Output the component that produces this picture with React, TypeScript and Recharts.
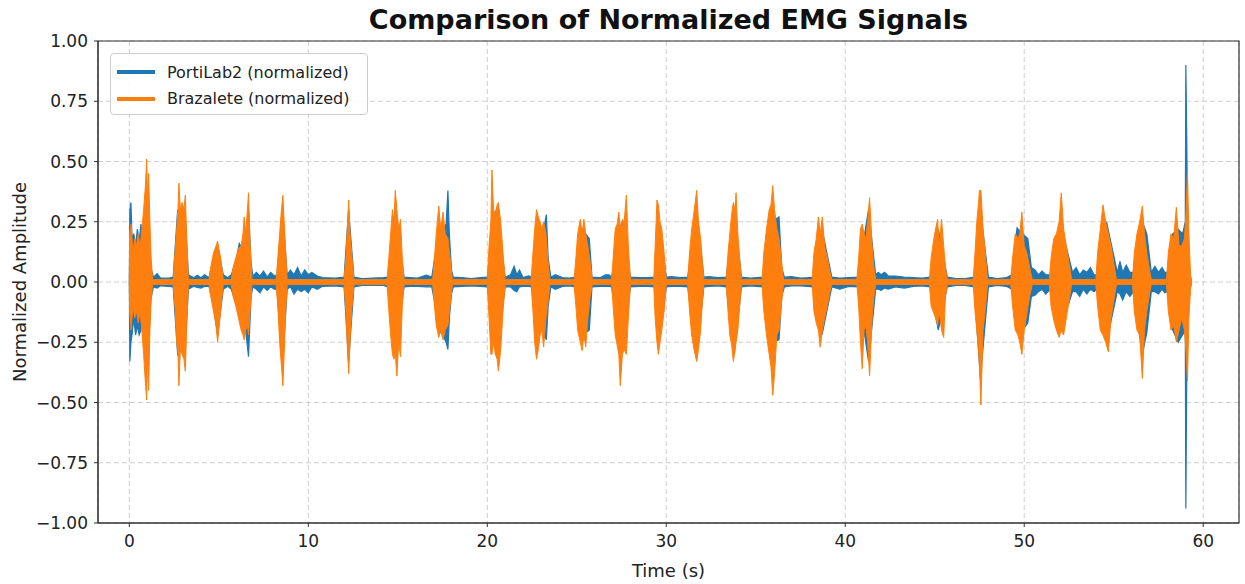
import React from 'react';
import {
  ComposedChart,
  Area,
  XAxis,
  YAxis,
  CartesianGrid,
  ReferenceArea,
  Label,
} from 'recharts';

// Tick values
const TIME_TICKS = [0, 10, 20, 30, 40, 50, 60];
const AMP_TICKS = [-1, -0.75, -0.5, -0.25, 0, 0.25, 0.5, 0.75, 1];

// Series names
const SERIES_NAMES = ['PortiLab2 (normalized)', 'Brazalete (normalized)'];

// Envelope readings [time (s), max, min] of the PortiLab2 signal
const PORTILAB2_ENVELOPE: [number, number, number][] = [
  [0, 0, 0], [0.03, 0.3, -0.33], [0.09, 0.33, -0.25], [0.15, 0.18, -0.22], [0.25, 0.2, -0.15], [0.35, 0.15, -0.22],
  [0.45, 0.22, -0.18], [0.55, 0.17, -0.22], [0.65, 0.24, -0.2], [0.75, 0.18, -0.15], [0.9, 0.25, -0.3], [1.05, 0.28, -0.3],
  [1.2, 0.06, -0.07], [1.35, 0.02, -0.02], [1.55, 0.035, -0.025], [1.75, 0.016, -0.016], [2.2, 0.016, -0.018],
  [2.45, 0.02, -0.02], [2.7, 0.3, -0.3], [2.9, 0.25, -0.28], [3.1, 0.3, -0.3], [3.3, 0.03, -0.03],
  [3.6, 0.018, -0.018], [3.8, 0.028, -0.022], [4.0, 0.018, -0.025], [4.2, 0.03, -0.018], [4.45, 0.018, -0.018],
  [4.7, 0.1, -0.1], [4.93, 0.15, -0.22], [5.25, 0.03, -0.03], [5.5, 0.018, -0.018],
  [5.7, 0.03, -0.03], [6.0, 0.1, -0.1], [6.14, 0.16, -0.12], [6.3, 0.14, -0.2], [6.5, 0.18, -0.2], [6.66, 0.3, -0.31],
  [6.8, 0.08, -0.06], [6.9, 0.025, -0.02],
  [7.1, 0.04, -0.03], [7.3, 0.025, -0.045], [7.5, 0.045, -0.02], [7.7, 0.02, -0.035], [7.9, 0.04, -0.02], [8.1, 0.025, -0.03],
  [8.25, 0.03, -0.03], [8.55, 0.3, -0.35], [8.82, 0.03, -0.03],
  [9.0, 0.05, -0.02], [9.2, 0.03, -0.05], [9.4, 0.06, -0.03], [9.6, 0.025, -0.04], [9.8, 0.05, -0.03], [10.0, 0.03, -0.045],
  [10.2, 0.04, -0.02], [10.5, 0.025, -0.03], [10.8, 0.018, -0.018], [11.5, 0.016, -0.016],
  [12.0, 0.02, -0.02], [12.25, 0.3, -0.33], [12.55, 0.02, -0.02],
  [13.0, 0.014, -0.014], [13.6, 0.016, -0.014], [14.2, 0.018, -0.014],
  [14.45, 0.02, -0.02], [14.85, 0.3, -0.3], [15.35, 0.02, -0.02],
  [15.7, 0.018, -0.018], [16.1, 0.016, -0.018], [16.6, 0.028, -0.02],
  [16.9, 0.02, -0.02], [17.1, 0.12, -0.1], [17.3, 0.2, -0.2], [17.5, 0.22, -0.22], [17.7, 0.24, -0.25], [17.8, 0.38, -0.28],
  [17.88, 0.2, -0.15], [18.0, 0.05, -0.05], [18.1, 0.02, -0.02],
  [18.6, 0.018, -0.018], [19.1, 0.014, -0.016], [19.6, 0.018, -0.018],
  [20.0, 0.02, -0.02], [20.5, 0.3, -0.3], [21.0, 0.02, -0.02],
  [21.3, 0.03, -0.02], [21.5, 0.065, -0.035], [21.65, 0.03, -0.04], [21.8, 0.05, -0.02], [22.0, 0.018, -0.018], [22.3, 0.025, -0.018],
  [22.5, 0.02, -0.02], [22.8, 0.2, -0.2], [23.1, 0.2, -0.2], [23.3, 0.28, -0.24], [23.4, 0.1, -0.1], [23.55, 0.02, -0.02],
  [23.8, 0.03, -0.03], [24.2, 0.018, -0.018], [24.6, 0.016, -0.016],
  [24.9, 0.02, -0.02], [25.3, 0.22, -0.22], [25.7, 0.18, -0.2], [25.85, 0.02, -0.02],
  [26.3, 0.018, -0.018], [26.6, 0.03, -0.018], [26.8, 0.03, -0.018],
  [26.95, 0.02, -0.02], [27.5, 0.25, -0.3], [28.0, 0.02, -0.02],
  [28.5, 0.018, -0.018], [29.0, 0.018, -0.018],
  [29.35, 0.02, -0.02], [29.6, 0.25, -0.25], [30.0, 0.02, -0.02],
  [30.3, 0.022, -0.018], [30.8, 0.018, -0.018],
  [31.2, 0.02, -0.02], [31.7, 0.3, -0.3], [32.1, 0.02, -0.02],
  [32.4, 0.022, -0.018], [32.9, 0.018, -0.016],
  [33.35, 0.02, -0.02], [33.8, 0.3, -0.3], [34.2, 0.02, -0.02],
  [34.7, 0.016, -0.016],
  [35.4, 0.02, -0.02], [35.9, 0.25, -0.25], [36.3, 0.27, -0.24], [36.45, 0.06, -0.06], [36.6, 0.02, -0.02],
  [37.0, 0.022, -0.016], [37.5, 0.016, -0.016], [37.9, 0.018, -0.018],
  [38.2, 0.02, -0.02], [38.7, 0.22, -0.22], [39.25, 0.02, -0.02],
  [39.7, 0.016, -0.03], [40.2, 0.018, -0.018],
  [40.7, 0.02, -0.02], [41.3, 0.3, -0.33], [41.7, 0.03, -0.03],
  [41.85, 0.04, -0.03], [42.0, 0.03, -0.035], [42.2, 0.04, -0.025], [42.4, 0.025, -0.03], [42.8, 0.025, -0.02],
  [43.3, 0.02, -0.025], [43.8, 0.018, -0.018], [44.3, 0.016, -0.016],
  [44.75, 0.02, -0.02], [45.2, 0.22, -0.2], [45.7, 0.02, -0.02],
  [46.2, 0.014, -0.014], [46.7, 0.014, -0.014],
  [47.2, 0.02, -0.02], [47.55, 0.3, -0.4], [48.0, 0.02, -0.02],
  [48.5, 0.014, -0.014], [49.0, 0.018, -0.018],
  [49.3, 0.03, -0.03], [49.6, 0.225, -0.15], [49.9, 0.2, -0.2], [50.2, 0.18, -0.17], [50.4, 0.06, -0.06],
  [50.6, 0.05, -0.055], [50.8, 0.03, -0.04], [51.0, 0.045, -0.03], [51.2, 0.03, -0.05],
  [51.45, 0.03, -0.03], [52.0, 0.25, -0.2], [52.7, 0.04, -0.04],
  [52.9, 0.06, -0.04], [53.1, 0.03, -0.06], [53.3, 0.05, -0.03], [53.5, 0.04, -0.05], [53.7, 0.06, -0.03], [53.9, 0.03, -0.04],
  [54.05, 0.03, -0.03], [54.6, 0.25, -0.25], [55.2, 0.04, -0.04],
  [55.35, 0.086, -0.05], [55.5, 0.04, -0.075], [55.7, 0.07, -0.04], [55.9, 0.04, -0.06],
  [56.1, 0.04, -0.04], [56.6, 0.25, -0.3], [56.85, 0.2, -0.21], [57.1, 0.04, -0.04],
  [57.3, 0.065, -0.04], [57.5, 0.04, -0.05], [57.7, 0.06, -0.03], [57.85, 0.04, -0.045],
  [58.0, 0.04, -0.04], [58.3, 0.2, -0.2], [58.6, 0.22, -0.25], [58.85, 0.2, -0.22], [59.0, 0.25, -0.2],
  [59.03, 0.9, -0.94], [59.08, 0.6, -0.4], [59.15, 0.1, -0.1], [59.3, 0.02, -0.02], [59.35, 0, 0],
];

// Envelope readings [time (s), max, min] of the Brazalete signal
const BRAZALETE_ENVELOPE: [number, number, number][] = [
  [0, 0, 0], [0.02, 0.2, -0.12], [0.1, 0.24, -0.2], [0.2, 0.12, -0.1], [0.3, 0.18, -0.15], [0.4, 0.15, -0.12],
  [0.5, 0.2, -0.17], [0.6, 0.14, -0.12], [0.7, 0.22, -0.2], [0.8, 0.3, -0.3], [0.9, 0.4, -0.42], [0.97, 0.51, -0.49],
  [1.02, 0.35, -0.3], [1.08, 0.45, -0.45], [1.15, 0.25, -0.2], [1.22, 0.1, -0.08], [1.3, 0.01, -0.01],
  [2.45, 0.01, -0.01], [2.55, 0.12, -0.1], [2.65, 0.22, -0.25], [2.72, 0.3, -0.3], [2.77, 0.41, -0.43], [2.85, 0.3, -0.28],
  [2.95, 0.33, -0.3], [3.05, 0.3, -0.32], [3.13, 0.36, -0.37], [3.2, 0.2, -0.2], [3.3, 0.01, -0.01],
  [4.45, 0.01, -0.01], [4.55, 0.06, -0.06], [4.7, 0.12, -0.12], [4.85, 0.15, -0.18], [4.93, 0.17, -0.25], [5.0, 0.14, -0.2],
  [5.1, 0.1, -0.12], [5.25, 0.01, -0.01],
  [5.7, 0.01, -0.01], [5.8, 0.06, -0.06], [5.95, 0.1, -0.1], [6.1, 0.14, -0.15], [6.25, 0.15, -0.2], [6.35, 0.2, -0.22],
  [6.42, 0.27, -0.24], [6.5, 0.2, -0.2], [6.6, 0.3, -0.18], [6.66, 0.37, -0.22], [6.75, 0.15, -0.12], [6.85, 0.01, -0.01],
  [8.2, 0.01, -0.01], [8.3, 0.1, -0.1], [8.4, 0.2, -0.25], [8.5, 0.3, -0.35], [8.58, 0.36, -0.43], [8.65, 0.25, -0.3],
  [8.72, 0.15, -0.15], [8.82, 0.01, -0.01],
  [12.0, 0.01, -0.01], [12.1, 0.1, -0.12], [12.2, 0.25, -0.3], [12.26, 0.34, -0.38], [12.33, 0.2, -0.25], [12.42, 0.12, -0.12],
  [12.55, 0.01, -0.01],
  [14.4, 0.01, -0.01], [14.5, 0.1, -0.12], [14.6, 0.2, -0.22], [14.7, 0.3, -0.3], [14.78, 0.25, -0.32], [14.86, 0.38, -0.3],
  [14.95, 0.3, -0.39], [15.05, 0.22, -0.25], [15.15, 0.26, -0.31], [15.25, 0.1, -0.1], [15.35, 0.01, -0.01],
  [16.95, 0.01, -0.01], [17.05, 0.1, -0.1], [17.15, 0.2, -0.18], [17.29, 0.315, -0.23], [17.4, 0.22, -0.2], [17.53, 0.29, -0.24],
  [17.65, 0.2, -0.2], [17.8, 0.18, -0.18], [17.92, 0.1, -0.1], [18.05, 0.01, -0.01],
  [20.0, 0.01, -0.01], [20.1, 0.15, -0.15], [20.2, 0.25, -0.3], [20.26, 0.465, -0.3], [20.35, 0.3, -0.25], [20.45, 0.28, -0.3],
  [20.55, 0.32, -0.32], [20.62, 0.33, -0.37], [20.75, 0.25, -0.28], [20.88, 0.12, -0.12], [21.0, 0.01, -0.01],
  [22.45, 0.01, -0.01], [22.55, 0.12, -0.12], [22.65, 0.22, -0.25], [22.75, 0.3, -0.32], [22.85, 0.27, -0.28], [22.95, 0.25, -0.22],
  [23.05, 0.22, -0.2], [23.15, 0.25, -0.27], [23.28, 0.2, -0.15], [23.4, 0.08, -0.08], [23.5, 0.01, -0.01],
  [24.85, 0.01, -0.01], [24.95, 0.1, -0.1], [25.05, 0.2, -0.2], [25.2, 0.26, -0.25], [25.3, 0.2, -0.285], [25.4, 0.26, -0.22],
  [25.5, 0.2, -0.27], [25.62, 0.15, -0.15], [25.75, 0.08, -0.06], [25.87, 0.01, -0.01],
  [26.95, 0.01, -0.01], [27.05, 0.12, -0.12], [27.15, 0.22, -0.22], [27.25, 0.24, -0.26], [27.35, 0.29, -0.3], [27.43, 0.22, -0.43],
  [27.55, 0.26, -0.3], [27.65, 0.25, -0.28], [27.77, 0.36, -0.3], [27.88, 0.15, -0.15], [28.0, 0.01, -0.01],
  [29.3, 0.01, -0.01], [29.38, 0.15, -0.15], [29.48, 0.34, -0.25], [29.56, 0.32, -0.3], [29.65, 0.25, -0.25], [29.75, 0.22, -0.2],
  [29.88, 0.12, -0.12], [30.0, 0.01, -0.01],
  [31.2, 0.01, -0.01], [31.3, 0.12, -0.12], [31.42, 0.22, -0.22], [31.55, 0.29, -0.28], [31.7, 0.38, -0.33], [31.8, 0.25, -0.28],
  [31.92, 0.18, -0.2], [32.02, 0.08, -0.08], [32.1, 0.01, -0.01],
  [33.35, 0.01, -0.01], [33.45, 0.12, -0.12], [33.55, 0.2, -0.22], [33.65, 0.28, -0.26], [33.75, 0.33, -0.33], [33.85, 0.3, -0.28],
  [33.9, 0.37, -0.25], [34.0, 0.2, -0.2], [34.1, 0.1, -0.1], [34.2, 0.01, -0.01],
  [35.35, 0.01, -0.01], [35.45, 0.12, -0.12], [35.6, 0.22, -0.22], [35.75, 0.3, -0.3], [35.85, 0.32, -0.35], [35.95, 0.4, -0.47],
  [36.05, 0.3, -0.38], [36.18, 0.22, -0.22], [36.3, 0.18, -0.2], [36.45, 0.08, -0.08], [36.55, 0.01, -0.01],
  [38.15, 0.01, -0.01], [38.25, 0.12, -0.12], [38.38, 0.18, -0.17], [38.5, 0.27, -0.2], [38.6, 0.2, -0.27], [38.72, 0.27, -0.2],
  [38.85, 0.15, -0.15], [39.0, 0.1, -0.1], [39.15, 0.04, -0.04], [39.25, 0.01, -0.01],
  [40.65, 0.01, -0.01], [40.75, 0.1, -0.1], [40.85, 0.22, -0.25], [40.95, 0.24, -0.36], [41.05, 0.2, -0.2], [41.15, 0.18, -0.18],
  [41.25, 0.25, -0.25], [41.36, 0.35, -0.39], [41.5, 0.15, -0.15], [41.6, 0.06, -0.06], [41.7, 0.01, -0.01],
  [44.7, 0.01, -0.01], [44.8, 0.1, -0.1], [44.95, 0.18, -0.13], [45.05, 0.22, -0.15], [45.16, 0.26, -0.18], [45.25, 0.15, -0.12],
  [45.38, 0.26, -0.2], [45.5, 0.15, -0.23], [45.6, 0.06, -0.06], [45.7, 0.01, -0.01],
  [47.15, 0.01, -0.01], [47.25, 0.12, -0.12], [47.35, 0.25, -0.2], [47.45, 0.33, -0.28], [47.5, 0.38, -0.35], [47.58, 0.38, -0.51],
  [47.7, 0.22, -0.2], [47.82, 0.12, -0.12], [47.95, 0.01, -0.01],
  [49.25, 0.01, -0.01], [49.35, 0.1, -0.1], [49.5, 0.2, -0.2], [49.65, 0.18, -0.22], [49.75, 0.2, -0.25], [49.87, 0.29, -0.3],
  [50.0, 0.15, -0.2], [50.15, 0.12, -0.13], [50.3, 0.06, -0.06], [50.45, 0.01, -0.01],
  [51.4, 0.01, -0.01], [51.5, 0.1, -0.1], [51.65, 0.18, -0.16], [51.8, 0.2, -0.2], [51.95, 0.25, -0.23], [52.07, 0.37, -0.2],
  [52.2, 0.22, -0.22], [52.35, 0.15, -0.15], [52.5, 0.08, -0.08], [52.65, 0.01, -0.01],
  [54.0, 0.01, -0.01], [54.1, 0.12, -0.1], [54.25, 0.22, -0.2], [54.4, 0.32, -0.22], [54.55, 0.25, -0.25], [54.7, 0.2, -0.29],
  [54.85, 0.15, -0.15], [55.0, 0.08, -0.08], [55.15, 0.01, -0.01],
  [56.05, 0.01, -0.01], [56.15, 0.12, -0.12], [56.3, 0.2, -0.2], [56.45, 0.25, -0.22], [56.6, 0.315, -0.4], [56.72, 0.2, -0.2],
  [56.85, 0.12, -0.12], [57.0, 0.05, -0.05], [57.1, 0.01, -0.01],
  [57.95, 0.01, -0.01], [58.05, 0.12, -0.12], [58.2, 0.2, -0.2], [58.35, 0.18, -0.18], [58.5, 0.31, -0.25], [58.65, 0.15, -0.2],
  [58.8, 0.15, -0.15], [58.95, 0.18, -0.2], [59.05, 0.3, -0.3], [59.12, 0.46, -0.41], [59.2, 0.2, -0.15], [59.3, 0.02, -0.02],
  [59.37, 0, 0],
];

const BLUE = '#1f77b4';
const ORANGE = '#ff7f0e';
const FONT = "'DejaVu Sans', Verdana, sans-serif";

const toRows = (env: [number, number, number][]) => env.map(([t, hi, lo]) => ({ t, v: [lo, hi] }));
const portiRows = toRows(PORTILAB2_ENVELOPE);
const brazaRows = toRows(BRAZALETE_ENVELOPE);

const fmtAmp = (v: number) => (v < 0 ? '\u2212' + Math.abs(v).toFixed(2) : v.toFixed(2));

const tickStyle = { fontSize: 17, fill: '#222', fontFamily: FONT };

export default function App() {
  return (
    <div style={{ position: 'absolute', left: 0, top: 0, width: 1245, height: 584, background: '#fff', fontFamily: FONT }}>
      <div
        style={{
          position: 'absolute', left: 98, width: 1141, top: 5, textAlign: 'center',
          fontSize: 27, fontWeight: 'bold', lineHeight: '30px', color: '#111',
        }}
      >
        Comparison of Normalized EMG Signals
      </div>
      <ComposedChart width={1245} height={584} margin={{ top: 41, right: 6, bottom: 0, left: 0 }}>
        <CartesianGrid stroke="#cfcfcf" strokeDasharray="5 3" />
        <XAxis
          type="number"
          dataKey="t"
          domain={[-1.75, 62]}
          ticks={TIME_TICKS}
          allowDataOverflow
          height={61}
          stroke="#333"
          tickSize={4}
          tickMargin={8}
          tick={tickStyle}
        >
          <Label value="Time (s)" position="insideBottom" offset={7} style={{ fontSize: 18, fill: '#222', fontFamily: FONT }} />
        </XAxis>
        <YAxis
          type="number"
          domain={[-1, 1]}
          ticks={AMP_TICKS}
          tickFormatter={fmtAmp}
          allowDataOverflow
          width={98}
          stroke="#333"
          tickSize={4}
          tickMargin={6}
          tick={tickStyle}
        >
          <Label
            value="Normalized Amplitude"
            angle={-90}
            position="insideLeft"
            offset={20}
            style={{ fontSize: 18, fill: '#222', fontFamily: FONT, textAnchor: 'middle' }}
          />
        </YAxis>
        <Area
          data={portiRows}
          dataKey="v"
          name={SERIES_NAMES[0]}
          type="linear"
          stroke={BLUE}
          strokeWidth={1.2}
          fill={BLUE}
          fillOpacity={1}
          dot={false}
          activeDot={false}
          isAnimationActive={false}
        />
        <Area
          data={brazaRows}
          dataKey="v"
          name={SERIES_NAMES[1]}
          type="linear"
          stroke={ORANGE}
          strokeWidth={1}
          fill={ORANGE}
          fillOpacity={1}
          dot={false}
          activeDot={false}
          isAnimationActive={false}
        />
        <ReferenceArea x1={-1.75} x2={62} y1={-1} y2={1} fill="none" stroke="#333" strokeWidth={1.2} ifOverflow="visible" />
      </ComposedChart>
      <div
        style={{
          position: 'absolute', left: 110, top: 53, width: 258, height: 62, boxSizing: 'border-box',
          border: '1px solid #cccccc', borderRadius: 4, background: 'rgba(255,255,255,0.85)',
          fontSize: 16, color: '#222',
        }}
      >
        {SERIES_NAMES.map((name, i) => (
          <div key={name} style={{ position: 'absolute', left: 6, top: 7 + i * 26.5, height: 22, display: 'flex', alignItems: 'center' }}>
            <div style={{ width: 38, height: 4, background: i === 0 ? BLUE : ORANGE, marginRight: 12 }} />
            <span style={{ whiteSpace: 'nowrap' }}>{name}</span>
          </div>
        ))}
      </div>
    </div>
  );
}
